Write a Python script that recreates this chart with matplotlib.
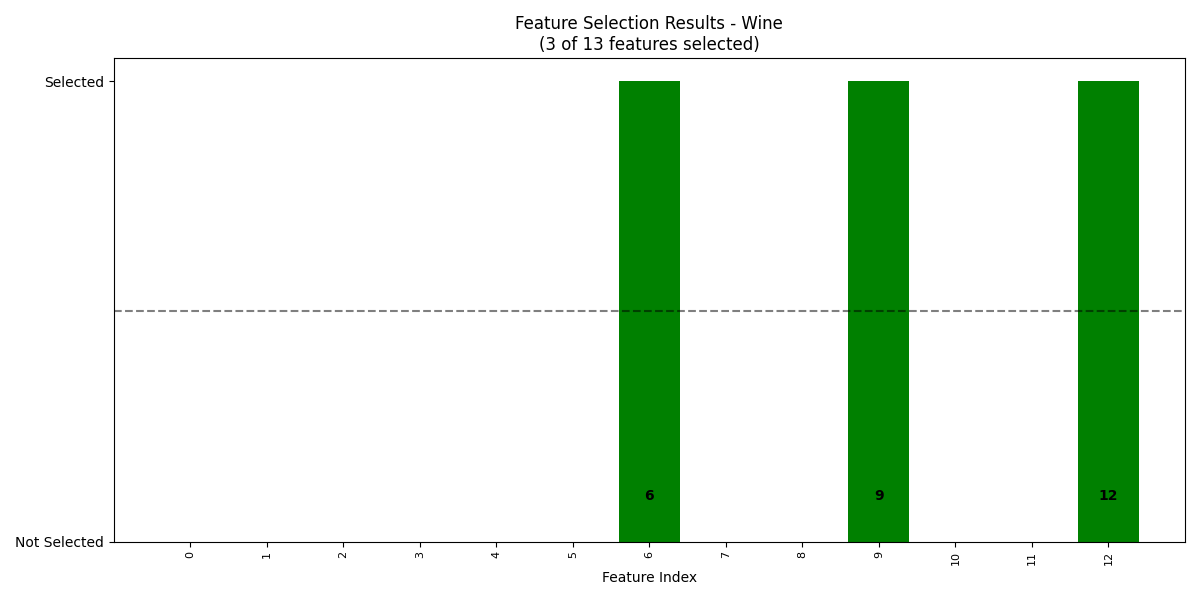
import numpy as np
import matplotlib
matplotlib.use("Agg")
import matplotlib.pyplot as plt

dataset_name = "Wine"
n_features = 13
selected_idx = [6, 9, 12]

feature_idx = list(range(n_features))
selected_mask = [1 if i in selected_idx else 0 for i in feature_idx]
colors = ["green" if s else "red" for s in selected_mask]

fig, ax = plt.subplots(figsize=(12, 6), dpi=100)
ax.bar(feature_idx, selected_mask, color=colors, width=0.8)
ax.axhline(0.5, color="black", linestyle="--", alpha=0.5)

for i in selected_idx:
    ax.text(i, 0.1, str(i), ha="center", va="center", fontweight="bold")

ax.set_xlim(-1, n_features)
ax.set_ylim(0, 1.05)
ax.set_yticks([0, 1])
ax.set_yticklabels(["Not Selected", "Selected"])
ax.set_xticks(feature_idx)
ax.set_xticklabels([str(i) for i in feature_idx], rotation=90, fontsize=8)
ax.set_xlabel("Feature Index")
ax.set_title("Feature Selection Results - {}\n({} of {} features selected)".format(
    dataset_name, len(selected_idx), n_features))

fig.tight_layout()
fig.savefig("out.png")
